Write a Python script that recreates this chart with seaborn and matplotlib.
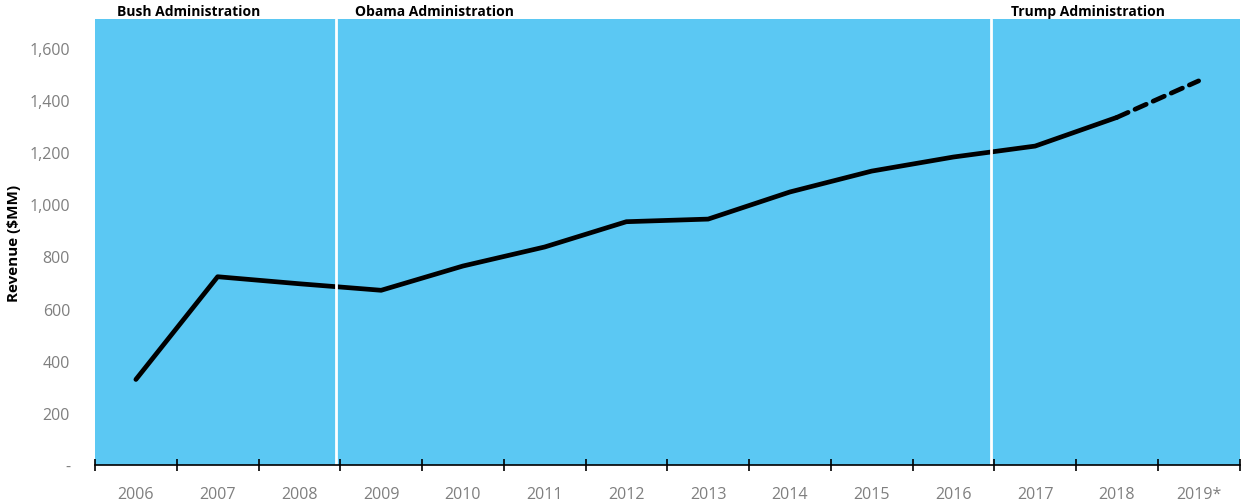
import matplotlib
matplotlib.use("Agg")
import matplotlib.pyplot as plt
import seaborn as sns
import pandas as pd
import numpy as np

years = ["2006", "2007", "2008", "2009", "2010", "2011", "2012",
         "2013", "2014", "2015", "2016", "2017", "2018", "2019*"]
revenue = [328, 722, 695, 670, 763, 836, 933, 943, 1047, 1127, 1181, 1223, 1333, 1473]
yticks = [0, 200, 400, 600, 800, 1000, 1200, 1400, 1600]
ytick_labels = ["-", "200", "400", "600", "800", "1,000", "1,200", "1,400", "1,600"]
administrations = ["Bush Administration", "Obama Administration", "Trump Administration"]
admin_label_pos = [-0.23, 2.68, 10.71]
admin_breaks = [2.45, 10.46]

sns.set_theme(style="white")
plt.rcParams["font.family"] = ["Open Sans", "DejaVu Sans"]

df = pd.DataFrame({"idx": np.arange(len(years)), "year": years, "revenue": revenue})
actual = df.iloc[:-1]
projected = df.iloc[-2:]

fig = plt.figure(figsize=(12.42, 5.02), dpi=100)
ax = fig.add_axes([0.0765, 0.0717, 0.9215, 0.8883])
ax.set_facecolor("#5BC8F3")

sns.lineplot(data=actual, x="idx", y="revenue", ax=ax, color="black",
             linewidth=3.4, solid_capstyle="round")
sns.lineplot(data=projected, x="idx", y="revenue", ax=ax, color="black",
             linewidth=3.4, dashes=[(2.6, 1.6)], style=[1, 1], legend=False,
             dash_capstyle="round")

for xb in admin_breaks:
    ax.axvline(xb, color="white", linewidth=2)

ax.set_xlim(-0.5, len(years) - 0.5)
ax.set_ylim(0, 1710)

ax.set_xticks(df["idx"])
ax.set_xticklabels(years)
ax.set_xticks(np.arange(-0.5, len(years)), minor=True)
ax.tick_params(axis="x", which="major", length=0, labelsize=11.5, labelcolor="#7f7f7f", pad=15)
ax.tick_params(axis="x", which="minor", length=9, width=1.2, direction="inout", color="black", bottom=True)

ax.set_yticks(yticks)
ax.set_yticklabels(ytick_labels)
ax.tick_params(axis="y", length=0, labelsize=11.5, labelcolor="#7f7f7f", pad=18)

for side in ["top", "right", "left"]:
    ax.spines[side].set_visible(False)
ax.spines["bottom"].set_color("black")
ax.spines["bottom"].set_linewidth(1.2)

ax.set_xlabel("")
ax.set_ylabel("Revenue ($MM)", fontsize=11, fontweight="bold", color="black", labelpad=6)

for name, xp in zip(administrations, admin_label_pos):
    ax.text(xp, 1.003, name, transform=ax.get_xaxis_transform(), ha="left", va="bottom",
            fontsize=10, fontweight="bold", color="black")

fig.savefig("out.png", dpi=100)
